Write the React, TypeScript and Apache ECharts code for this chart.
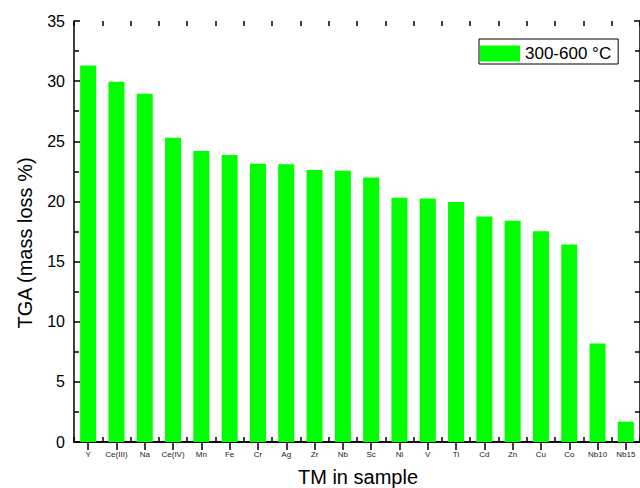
import React, { useEffect, useRef } from "react";
import * as echarts from "echarts";

const categories = ["Y", "Ce(III)", "Na", "Ce(IV)", "Mn", "Fe", "Cr", "Ag", "Zr", "Nb", "Sc", "Ni", "V", "Ti", "Cd", "Zn", "Cu", "Co", "Nb10", "Nb15"];
const tgaValues = [31.3, 29.95, 28.95, 25.3, 24.2, 23.86, 23.14, 23.1, 22.62, 22.56, 21.98, 20.3, 20.24, 19.96, 18.74, 18.39, 17.53, 16.42, 8.18, 1.69];
const seriesName = "300-600 °C";
const yTitle = "TGA (mass loss %)";
const xTitle = "TM in sample";

const FONT = "Arial, 'Liberation Sans', sans-serif";

export default function App() {
  const ref = useRef<HTMLDivElement>(null);
  useEffect(() => {
    if (!ref.current) return;
    const chart = echarts.init(ref.current, undefined, { renderer: "svg" });
    const lineStyle = { color: "#000", width: 1.5 };
    chart.setOption({
      animation: false,
      backgroundColor: "#fff",
      textStyle: { fontFamily: FONT },
      grid: { left: 74, right: -3, top: 21, bottom: 46 },
      legend: {
        show: true,
        data: [{ name: seriesName, icon: "rect" }],
        left: 479,
        top: 39,
        orient: "horizontal",
        itemWidth: 40,
        itemHeight: 16,
        itemGap: 6,
        padding: [6, 7, 2, 1],
        borderColor: "#000",
        borderWidth: 1,
        backgroundColor: "#fff",
        textStyle: { fontFamily: FONT, fontSize: 17, color: "#000" },
        selectedMode: false,
      },
      xAxis: [
        {
          type: "category",
          data: categories,
          position: "bottom",
          boundaryGap: true,
          axisLine: { show: true, lineStyle },
          axisTick: { show: true, inside: true, length: 5, lineStyle },
          axisLabel: { interval: 0, fontSize: 8, color: "#222", margin: 8, fontFamily: FONT },
          splitLine: { show: false },
        },
        {
          type: "category",
          data: categories,
          position: "top",
          boundaryGap: true,
          axisLine: { show: true, lineStyle },
          axisTick: { show: true, inside: true, length: 8, alignWithLabel: true, interval: 0, lineStyle },
          axisLabel: { show: false },
          splitLine: { show: false },
        },
        {
          type: "category",
          data: categories,
          position: "top",
          boundaryGap: true,
          axisLine: { show: false },
          axisTick: { show: true, inside: true, length: 5, interval: 0, lineStyle },
          axisLabel: { show: false },
          splitLine: { show: false },
        },
      ],
      yAxis: [
        {
          type: "value",
          min: 0,
          max: 35,
          interval: 5,
          position: "left",
          axisLine: { show: true, lineStyle },
          axisTick: { show: true, inside: true, length: 6, lineStyle },
          minorTick: { show: true, splitNumber: 2, length: 5, lineStyle },
          axisLabel: { fontSize: 16, color: "#000", margin: 9, fontFamily: FONT },
          splitLine: { show: false },
        },
        {
          type: "value",
          min: 0,
          max: 35,
          interval: 5,
          position: "right",
          axisLine: { show: true, lineStyle },
          axisTick: { show: true, inside: true, length: 6, lineStyle },
          minorTick: { show: true, splitNumber: 2, length: 5, lineStyle },
          axisLabel: { show: false },
          splitLine: { show: false },
        },
      ],
      series: [
        {
          name: seriesName,
          type: "bar",
          data: tgaValues,
          xAxisIndex: 0,
          yAxisIndex: 0,
          barWidth: 16,
          itemStyle: { color: "#00ff00" },
        },
      ],
      graphic: [
        {
          type: "text",
          x: 25,
          y: 243,
          rotation: Math.PI / 2,
          style: { text: yTitle, font: `20px ${FONT}`, fill: "#000", align: "center", verticalAlign: "middle" },
        },
        {
          type: "text",
          x: 358,
          y: 477,
          style: { text: xTitle, font: `20px ${FONT}`, fill: "#000", align: "center", verticalAlign: "middle" },
        },
      ],
    });
    return () => chart.dispose();
  }, []);
  return <div ref={ref} style={{ position: "fixed", left: 0, top: 0, width: 640, height: 488 }} />;
}
